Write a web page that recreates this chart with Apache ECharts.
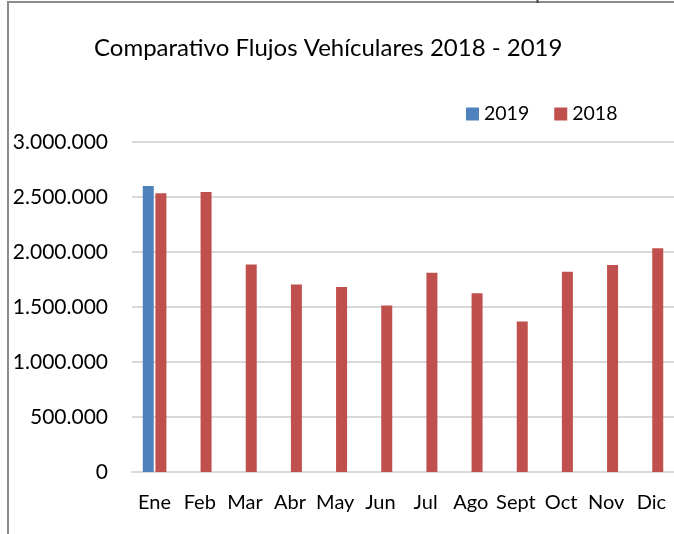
<!DOCTYPE html>
<html>
<head>
<meta charset="utf-8">
<script src="https://cdn.jsdelivr.net/npm/echarts@6/dist/echarts.min.js"></script>
<style>
    html, body { margin: 0; padding: 0; background: #fff; }
    #chart { width: 674px; height: 534px; }
</style>
</head>
<body>
<div id="chart"></div>
<script>
    // datos
    const months = ['Ene', 'Feb', 'Mar', 'Abr', 'May', 'Jun', 'Jul', 'Ago', 'Sept', 'Oct', 'Nov', 'Dic'];
    const flujos2019 = [2600000, null, null, null, null, null, null, null, null, null, null, null];
    const flujos2018 = [2533000, 2545000, 1887000, 1705000, 1681000, 1514000, 1811000, 1626000, 1368000, 1820000, 1881000, 2035000];
    const yTicks = [0, 500000, 1000000, 1500000, 2000000, 2500000, 3000000];

    const font = 'Lato';

    // formato con punto de miles
    function miles (v) {
        return String(v).replace(/\B(?=(\d{3})+(?!\d))/g, '.');
    }

    let chart = echarts.init(document.getElementById('chart'));
    let option = {
        animation: false,
        title: {
            text: 'Comparativo Flujos Vehículares 2018 - 2019',
            left: 89,
            top: 31,
            textStyle: { fontFamily: font, fontSize: 24, fontWeight: 'normal', color: '#000' }
        },
        legend: {
            data: ['2019', '2018'],
            left: 461,
            top: 99,
            itemWidth: 13,
            itemHeight: 13,
            itemGap: 25,
            icon: 'rect',
            textStyle: { fontFamily: font, fontSize: 19.5, color: '#000' }
        },
        grid: { left: 132, right: -2, top: 142, bottom: 62, containLabel: false },
        xAxis: {
            type: 'category',
            data: months,
            axisLine: { lineStyle: { color: '#d9d9d9', width: 2 } },
            axisTick: { show: false },
            axisLabel: { fontFamily: font, fontSize: 20, color: '#000', margin: 21, interval: 0 }
        },
        yAxis: {
            type: 'value',
            min: yTicks[0],
            max: yTicks[yTicks.length - 1],
            interval: yTicks[1] - yTicks[0],
            axisLine: { show: false },
            axisTick: { show: false },
            splitLine: { lineStyle: { color: '#d9d9d9', width: 2 } },
            axisLabel: { fontFamily: font, fontSize: 21, color: '#000', margin: 24, formatter: miles }
        },
        series: [
            {
                name: '2019',
                type: 'bar',
                data: flujos2019,
                barWidth: 11,
                barGap: '15%',
                itemStyle: { color: '#4f81bd' }
            },
            {
                name: '2018',
                type: 'bar',
                data: flujos2018,
                barWidth: 11,
                itemStyle: { color: '#c0504d' }
            }
        ],
        graphic: [
            { type: 'line', shape: { x1: 8, y1: 2, x2: 8, y2: 534 }, style: { stroke: '#8c8c8c', lineWidth: 2 } },
            { type: 'line', shape: { x1: 7, y1: 2, x2: 674, y2: 2 }, style: { stroke: '#8c8c8c', lineWidth: 2 } },
            { type: 'line', shape: { x1: 537.5, y1: 0, x2: 537.5, y2: 3 }, style: { stroke: '#404040', lineWidth: 2 } }
        ]
    };
    chart.setOption(option);
</script>
</body>
</html>
